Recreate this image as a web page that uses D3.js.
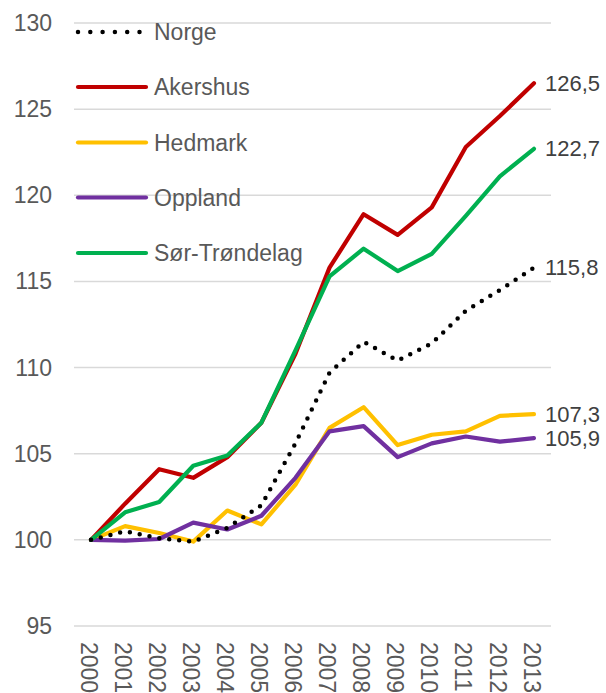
<!DOCTYPE html>
<html><head><meta charset="utf-8">
<script src="https://cdn.jsdelivr.net/npm/d3@7"></script>
<style>body{margin:0;background:#fff}text{font-family:"Liberation Sans",Arial,sans-serif}</style>
</head><body><svg id="c" width="606" height="693"></svg>
<script>
const years = ["2000","2001","2002","2003","2004","2005","2006","2007","2008","2009","2010","2011","2012","2013"];
const norge = [100,100.5,100.1,99.9,100.7,102.0,105.6,109.7,111.5,110.4,111.4,113.3,114.5,115.8];
const akershus = [100,102.1,104.1,103.6,104.8,106.8,110.8,115.8,118.9,117.7,119.3,122.8,124.6,126.5];
const hedmark = [100,100.8,100.4,99.9,101.7,100.9,103.2,106.5,107.7,105.5,106.1,106.3,107.2,107.3];
const oppland = [100,99.95,100.05,101.0,100.6,101.4,103.6,106.3,106.6,104.8,105.6,106.0,105.7,105.9];
const sorTrondelag = [100,101.6,102.2,104.3,104.9,106.8,111.0,115.3,116.9,115.6,116.6,118.8,121.1,122.7];
const seriesNames = ["Norge","Akershus","Hedmark","Oppland","Sør-Trøndelag"];
const endLabels = ["115,8","126,5","107,3","105,9","122,7"];
const yTicks = [95,100,105,110,115,120,125,130];

const colors = ["#000000","#C00000","#FFC000","#7030A0","#00B050"];
const data = [norge, akershus, hedmark, oppland, sorTrondelag];

const svg = d3.select("#c");
const mLeft = 74, mRight = 551, mTop = 23, mBottom = 626;
const x = d3.scaleBand().domain(years).range([mLeft, mRight]);
const y = d3.scaleLinear().domain([95,130]).range([mBottom, mTop]);

// gridlines
svg.append("g").selectAll("line").data(yTicks).join("line")
  .attr("x1", mLeft).attr("x2", mRight)
  .attr("y1", d => y(d)).attr("y2", d => y(d))
  .attr("stroke", "#d9d9d9").attr("stroke-width", 1.5);

// y labels
svg.append("g").selectAll("text").data(yTicks).join("text")
  .attr("x", 52).attr("y", d => y(d)).attr("dy", "0.35em")
  .attr("text-anchor", "end").attr("font-size", 23).attr("fill", "#595959")
  .text(d => d);

// x labels rotated
svg.append("g").selectAll("text").data(years).join("text")
  .attr("transform", d => `translate(${x(d) + x.bandwidth()/2},642) rotate(90)`)
  .attr("dy", "0.45em").attr("font-size", 23).attr("fill", "#595959")
  .text(d => d);

const line = d3.line().x((d,i) => x(years[i]) + x.bandwidth()/2).y(d => y(d));

const order = [2,3,1,4,0];
order.forEach(k => {
  const p = svg.append("path").datum(data[k]).attr("d", line)
    .attr("fill", "none").attr("stroke", colors[k])
    .attr("stroke-width", k === 0 ? 4.5 : 4.2)
    .attr("stroke-linejoin", "round").attr("stroke-linecap", "round");
  if (k === 0) p.attr("stroke-dasharray", "0 10");
});

// end labels
data.forEach((s, k) => {
  svg.append("text").attr("x", 545).attr("y", y(s[s.length-1]))
    .attr("dy", "0.35em").attr("font-size", 22).attr("fill", "#404040")
    .text(endLabels[k]);
});

// legend
const legY = [32, 87, 142.5, 197.5, 253];
seriesNames.forEach((n, k) => {
  const g = svg.append("g");
  const l = g.append("line").attr("x1", 78).attr("x2", 146).attr("y1", legY[k]).attr("y2", legY[k])
    .attr("stroke", colors[k]).attr("stroke-width", k === 0 ? 4.5 : 4.2).attr("stroke-linecap", "round");
  if (k === 0) l.attr("stroke-dasharray", "0 12.3");
  g.append("text").attr("x", 154).attr("y", legY[k]).attr("dy", "0.35em")
    .attr("font-size", 23).attr("fill", "#595959").text(n);
});
</script></body></html>
